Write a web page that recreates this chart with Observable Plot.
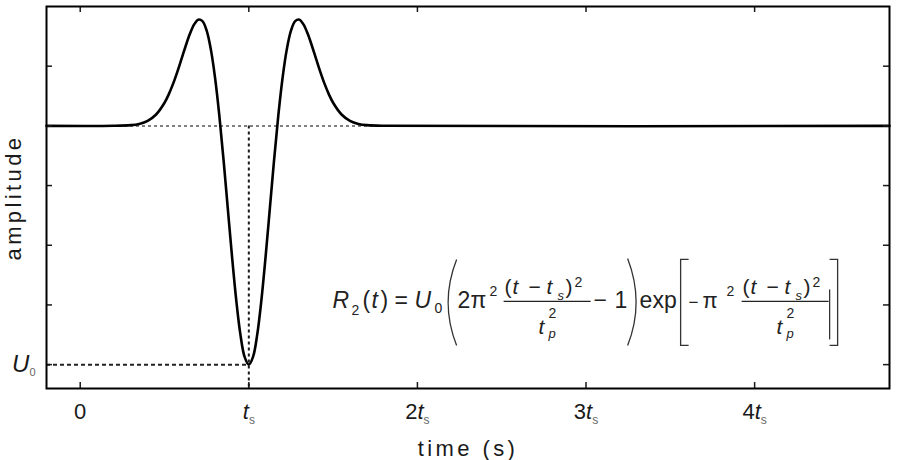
<!DOCTYPE html>
<html>
<head>
<meta charset="utf-8">
<script src="https://cdn.jsdelivr.net/npm/d3@7"></script>
<script src="https://cdn.jsdelivr.net/npm/@observablehq/plot@0.6"></script>
<style>
  body { margin: 0; background: #fff; }
  svg { display: block; }
  g[aria-label="x-axis label"] text, g[aria-label="y-axis label"] text { letter-spacing: 3.4px; }
</style>
</head>
<body>
<div id="chart"></div>
<script>
// Time in units of t_s, amplitude in units of U0
const timeVals = [-0.2, 0.2, 0.3, 0.35, 0.4, 0.45, 0.5, 0.525, 0.55, 0.575, 0.6, 0.625, 0.65, 0.675, 0.7, 0.725, 0.75, 0.775, 0.8, 0.825, 0.85, 0.875, 0.9, 0.925, 0.95, 0.975, 1.0,
  1.025, 1.05, 1.075, 1.1, 1.125, 1.15, 1.175, 1.2, 1.225, 1.25, 1.275, 1.3, 1.325, 1.35, 1.375, 1.4, 1.425, 1.45, 1.475, 1.5, 1.55, 1.6, 1.65, 1.7, 1.8, 4.8];
const ampVals = [0, 0.0003, 0.003, 0.0083, 0.021, 0.0476, 0.0967, 0.132, 0.1748, 0.2244, 0.2785, 0.3336, 0.3844, 0.4242, 0.445, 0.4388, 0.3986, 0.3194, 0.2001, 0.0437, -0.1418, -0.3434, -0.5446, -0.7272, -0.8731, -0.9674, -1,
  -0.9674, -0.8731, -0.7272, -0.5446, -0.3434, -0.1418, 0.0437, 0.2001, 0.3194, 0.3986, 0.4388, 0.445, 0.4242, 0.3844, 0.3336, 0.2785, 0.2244, 0.1748, 0.132, 0.0967, 0.0476, 0.021, 0.0083, 0.003, 0.0003, 0];

const xTicks = [0, 1, 2, 3, 4];
const xTickLabels = ["0", "ts", "2ts", "3ts", "4ts"];
const yTicks = [-1, -0.75, -0.5, -0.25, 0, 0.25];
const yLabelTicks = [-1];
const yTickLabels = ["U0"];
const tsValue = 1;
const u0Value = -1;
const baseValue = 0;
const xDomain = [-0.2, 4.8];
const yDomain = [-1.1, 0.5];

const data = timeVals.map((t, i) => ({t, a: ampVals[i]}));

const W = 899, H = 460, mL = 46, mR = 10, mT = 6, mB = 72;
const innerW = W - mL - mR, innerH = H - mT - mB, tick = 6;
const ink = "#1a1a1a";

const plot = Plot.plot({
  width: W, height: H,
  marginLeft: mL, marginRight: mR, marginTop: mT, marginBottom: mB,
  style: {fontFamily: "'Liberation Sans', Arial, sans-serif", fontSize: "22px", color: ink, background: "#fff"},
  x: {domain: xDomain},
  y: {domain: yDomain},
  marks: [
    Plot.ruleY([baseValue], {stroke: "#808080", strokeWidth: 2, strokeDasharray: "3,3"}),
    Plot.ruleX([tsValue], {y1: baseValue, y2: yDomain[0], stroke: ink, strokeWidth: 2, strokeDasharray: "3,3"}),
    Plot.ruleY([u0Value], {x1: xDomain[0], x2: tsValue, stroke: "#222", strokeWidth: 2, strokeDasharray: "4,3"}),
    Plot.line(data, {x: "t", y: "a", curve: "catmull-rom", stroke: "#000", strokeWidth: 2.6}),
    Plot.ruleX(xTicks, {insetTop: innerH - tick, stroke: ink, strokeWidth: 1.5}),
    Plot.ruleX(xTicks, {insetBottom: innerH - tick, stroke: ink, strokeWidth: 1.5}),
    Plot.ruleY(yTicks, {insetRight: innerW - tick, stroke: ink, strokeWidth: 1.5}),
    Plot.ruleY(yTicks, {insetLeft: innerW - tick, stroke: ink, strokeWidth: 1.5}),
    Plot.frame({stroke: "#000", strokeWidth: 2}),
    Plot.axisX(xTicks, {tickSize: 0, tickPadding: 15, tickFormat: d => xTickLabels[xTicks.indexOf(d)],
      label: "time (s)", labelAnchor: "center", labelOffset: 67, labelArrow: "none"}),
    Plot.axisY(yLabelTicks, {tickSize: 0, tickPadding: 11, tickFormat: d => yTickLabels[yLabelTicks.indexOf(d)],
      label: "amplitude", labelAnchor: "center", labelOffset: 41, labelArrow: "none"})
  ]
});
document.getElementById("chart").appendChild(plot);

const svgns = "http://www.w3.org/2000/svg";
function tspan(parent, txt, attrs) {
  const el = document.createElementNS(svgns, "tspan");
  el.textContent = txt;
  for (const k in attrs) el.setAttribute(k, attrs[k]);
  parent.appendChild(el);
  return el;
}
// x tick labels: italic t with subscript s
plot.querySelectorAll('g[aria-label="x-axis tick label"] text').forEach(tx => {
  const s = tx.textContent;
  const k = s.indexOf("t");
  if (k < 0) return;
  tx.textContent = "";
  if (k > 0) tspan(tx, s.slice(0, k), {});
  tspan(tx, "t", {"font-style": "italic"});
  tspan(tx, "s", {"font-size": 12, dy: 5, fill: "#666"});
});
// y tick label: italic U with subscript 0
plot.querySelectorAll('g[aria-label="y-axis tick label"] text').forEach(tx => {
  const s = tx.textContent;
  tx.textContent = "";
  tspan(tx, s[0], {"font-style": "italic", "font-size": 24});
  tspan(tx, s.slice(1), {"font-size": 11, dy: 4, fill: "#666"});
});

// Formula annotation
const sx = plot.scale("x"), sy = plot.scale("y");
const ox = sx.apply(1.5), oy = sy.apply(-0.75);
const g = d3.select(plot).append("g")
  .attr("transform", `translate(${ox},${oy})`)
  .attr("font-family", "'Liberation Sans', Arial, sans-serif")
  .attr("text-anchor", "start")
  .attr("fill", "#222");
const pieces = [
  ["R", 0, 4, 23, true], ["2", 19, 11, 14], ["(", 30, 4, 23], ["t", 39, 4, 23, true], [")", 48, 4, 23],
  ["=", 62, 4, 23], ["U", 82, 4, 23, true], ["0", 102, 9, 14],
  ["2\u03c0", 125, 4, 23], ["2", 157, -8, 14],
  ["\u2212", 261, 4, 23], ["1", 282, 4, 23], ["exp", 307, 4, 23],
  ["\u2212", 356, 4, 17], ["\u03c0", 370, 4, 22], ["2", 394, -8, 14]
];
function fraction(S) {
  pieces.push(["(", S, -10, 21], ["t", S + 8, -10, 21, true], ["\u2212", S + 24, -10, 21],
    ["t", S + 42, -10, 21, true], ["s", S + 53, -4, 13, true], [")", S + 61, -10, 21], ["2", S + 70, -17, 14],
    ["t", S + 34, 30, 21, true], ["2", S + 44, 14, 14], ["p", S + 44, 34, 13, true]);
  g.append("line").attr("x1", S - 1).attr("x2", S + 86).attr("y1", -3).attr("y2", -3)
    .attr("stroke", "#222").attr("stroke-width", 1.3);
}
fraction(172);
fraction(410);
g.selectAll("text").data(pieces).join("text")
  .attr("x", d => d[1]).attr("y", d => d[2])
  .attr("font-size", d => d[3])
  .attr("font-style", d => d[4] ? "italic" : null)
  .text(d => d[0]);
const br = "#333";
[
  "M124,-45 Q107,-2 124,41",
  "M295,-46 Q312,-2 295,41",
  "M356,-45 H348 V41 H356",
  "M497,-45 H505 V41 H497",
  "M497,-15 V35"
].forEach(p => g.append("path").attr("d", p).attr("fill", "none").attr("stroke", br).attr("stroke-width", 1.3));
</script>
</body>
</html>
